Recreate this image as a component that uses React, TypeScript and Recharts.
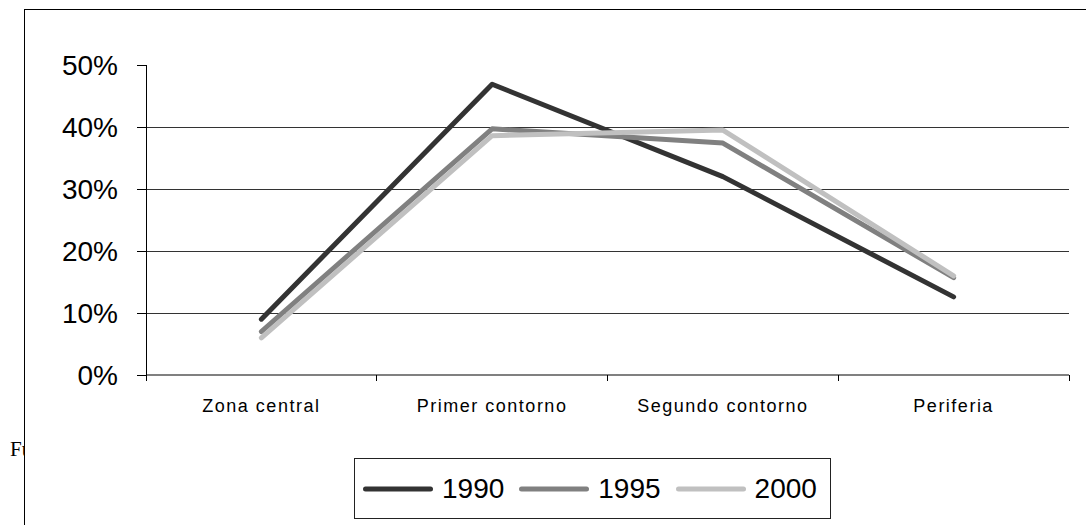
import { LineChart, Line, XAxis, YAxis, CartesianGrid, Legend } from "recharts";

const categories = ["Zona central", "Primer contorno", "Segundo contorno", "Periferia"];
const v1990 = [9.0, 46.9, 32.0, 12.6];
const v1995 = [7.0, 39.7, 37.4, 15.7];
const v2000 = [6.0, 38.6, 39.5, 16.0];
const yTicks = [0, 10, 20, 30, 40, 50];
const gridValues = [10, 20, 30, 40];

const series = [
  { key: "1990", values: v1990, color: "#333333" },
  { key: "1995", values: v1995, color: "#808080" },
  { key: "2000", values: v2000, color: "#c0c0c0" },
];

// categories sit at the middle of each band, ticks at the band edges
const data = categories.map((name, i) => {
  const row: Record<string, number | string> = { name, pos: i + 0.5 };
  series.forEach((s) => (row[s.key] = s.values[i]));
  return row;
});
const xTicks = categories.flatMap((_, i) => [i, i + 0.5]).concat(categories.length);

const FONT = '"Liberation Sans", Arial, sans-serif';

const XTick = (props: any) => {
  const { x, y, payload } = props;
  const v = payload.value;
  if (Number.isInteger(v)) {
    return <line x1={x} x2={x} y1={y} y2={y + 6} stroke="#000" strokeWidth={1} shapeRendering="crispEdges" />;
  }
  return (
    <text x={x} y={y + 37} textAnchor="middle" fill="#000" fontSize={18} fontFamily={FONT} letterSpacing={1.5}>
      {categories[Math.floor(v)]}
    </text>
  );
};

const LegendBox = (props: any) => {
  const { payload } = props;
  return (
    <div
      style={{
        boxSizing: "border-box",
        width: 477,
        height: 61,
        border: "1px solid #222",
        background: "#fff",
        display: "flex",
        alignItems: "center",
        paddingLeft: 8,
        fontFamily: FONT,
        fontSize: 28,
        color: "#000",
      }}
    >
      {(payload || []).map((p: any) => (
        <div key={p.value} style={{ display: "flex", alignItems: "center", marginRight: 15 }}>
          <svg width={70} height={10}>
            <line x1={2.5} x2={67.5} y1={5} y2={5} stroke={p.color} strokeWidth={5} strokeLinecap="round" />
          </svg>
          <span style={{ marginLeft: 9, lineHeight: "28px" }}>{p.value}</span>
        </div>
      ))}
    </div>
  );
};

export default function App() {
  return (
    <div style={{ position: "relative", width: 1086, height: 525, overflow: "hidden", background: "#fff" }}>
      <style>{`body{margin:0}`}</style>
      <div
        style={{
          position: "absolute",
          left: 10,
          top: 437,
          fontFamily: '"Liberation Serif", "Times New Roman", serif',
          fontSize: 21,
          color: "#000",
          whiteSpace: "nowrap",
        }}
      >
        Fuente: elaboración propia
      </div>
      <div
        style={{
          position: "absolute",
          left: 24,
          top: 9,
          width: 1100,
          height: 600,
          border: "1px solid #000",
          background: "#fff",
        }}
      />
      <div style={{ position: "absolute", left: 0, top: 0 }}>
        <LineChart width={1086} height={525} data={data} margin={{ top: 65, right: 17, left: 0, bottom: 120 }}>
          <CartesianGrid
            vertical={false}
            horizontalValues={gridValues}
            stroke="#333"
            strokeWidth={1}
            shapeRendering="crispEdges"
          />
          <XAxis
            dataKey="pos"
            type="number"
            domain={[0, categories.length]}
            ticks={xTicks}
            interval={0}
            height={30}
            tickSize={0}
            tickMargin={0}
            tickLine={false}
            tick={<XTick />}
            axisLine={{ stroke: "#808080", strokeWidth: 2 }}
          />
          <YAxis
            type="number"
            domain={[0, 50]}
            ticks={yTicks}
            interval={0}
            width={146}
            tickSize={9}
            tickMargin={19}
            tickFormatter={(v: number) => `${v}%`}
            tick={{ fill: "#000", fontSize: 28, fontFamily: FONT }}
            tickLine={{ stroke: "#000", shapeRendering: "crispEdges" }}
            axisLine={{ stroke: "#000", shapeRendering: "crispEdges" }}
          />
          <Legend
            layout="vertical"
            align="center"
            verticalAlign="middle"
            wrapperStyle={{ left: 354, top: 458, width: 477, height: 61 }}
            content={<LegendBox />}
          />
          {series.map((s) => (
            <Line
              key={s.key}
              type="linear"
              dataKey={s.key}
              name={s.key}
              stroke={s.color}
              strokeWidth={5}
              strokeLinecap="round"
              strokeLinejoin="round"
              dot={false}
              activeDot={false}
              isAnimationActive={false}
            />
          ))}
        </LineChart>
      </div>
    </div>
  );
}
